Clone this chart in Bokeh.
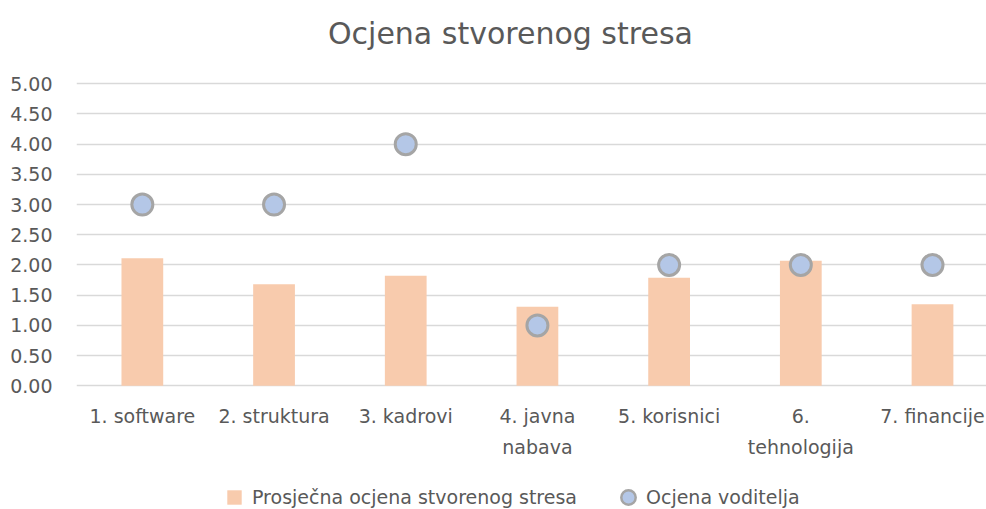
from bokeh.plotting import figure
from bokeh.models import (Range1d, FixedTicker, Legend, LegendItem, Label,
                          ColumnDataSource, NumeralTickFormatter)
from bokeh.core.properties import value
from bokeh.embed import file_html
from bokeh.resources import INLINE

# ---- data ----
title_text = "Ocjena stvorenog stresa"
categories = ["1. software", "2. struktura", "3. kadrovi", "4. javna nabava",
              "5. korisnici", "6. tehnologija", "7. financije"]
tick_labels = ["1. software", "2. struktura", "3. kadrovi", "4. javna\nnabava",
               "5. korisnici", "6.\ntehnologija", "7. financije"]
avg_stress = [2.11, 1.68, 1.82, 1.31, 1.79, 2.07, 1.35]
leader_score = [3, 3, 4, 1, 2, 2, 2]
y_ticks = [0, 0.5, 1, 1.5, 2, 2.5, 3, 3.5, 4, 4.5, 5]
series_names = ["Prosječna ocjena stvorenog stresa", "Ocjena voditelja"]

FONT = "DejaVu Sans"
TXT = "#595959"
BAR = "#F8CBAD"
DOT = "#B4C7E7"
DOT_LINE = "#A5A5A5"

xpos = [i + 0.5 for i in range(len(categories))]
src = ColumnDataSource(dict(x=xpos, avg=avg_stress, lead=leader_score,
                            cat=categories, lab=tick_labels))

# the plotting frame spans the full height so that the title, category
# labels and legend (drawn in data space) are not clipped
p = figure(width=986, height=509, output_backend="svg", toolbar_location=None,
           title=None, x_range=Range1d(0, 6.91), y_range=Range1d(-2.048, 6.379),
           min_border_left=76, min_border_right=0, min_border_top=0,
           min_border_bottom=0)
p.outline_line_color = None
p.background_fill_color = "white"
p.border_fill_color = "white"
p.xaxis.visible = False

bars = p.vbar(x="x", top="avg", width=0.317, bottom=0, source=src,
              fill_color=BAR, line_color=None)
dots = p.scatter(x="x", y="lead", size=21, source=src, marker="circle",
                 fill_color=DOT, line_color=DOT_LINE, line_width=3)

# y axis + grid
p.xgrid.grid_line_color = None
p.ygrid.grid_line_color = "#D9D9D9"
p.ygrid.grid_line_width = 1.3
p.yaxis.ticker = FixedTicker(ticks=y_ticks)
p.yaxis.formatter = NumeralTickFormatter(format="0.00")
p.yaxis.axis_line_color = None
p.yaxis.major_tick_line_color = None
p.yaxis.minor_tick_line_color = None
p.yaxis.major_label_text_font = FONT
p.yaxis.major_label_text_font_size = "19px"
p.yaxis.major_label_text_color = TXT
p.yaxis.major_label_standoff = 18

# category labels under the bars
p.text(x="x", y=-0.31, text="lab", source=src, text_font=value(FONT),
       text_font_size="19px", text_color=TXT, text_align="center",
       text_baseline="top", text_line_height=1.45)

# title
p.add_layout(Label(x=3.295, y=5.833, text=title_text, text_font=FONT,
                   text_font_size="30px", text_color=TXT, text_align="center",
                   text_baseline="middle"))

# legend-only renderers (hidden) so the legend markers can be larger
leg_sq = p.scatter(x="x", y="avg", source=src, marker="square",
                   fill_color=BAR, line_color=None, visible=False)
leg_ci = p.scatter(x="x", y="lead", source=src, marker="circle", fill_color=DOT,
                   line_color=DOT_LINE, line_width=2.5, visible=False)

legend = Legend(items=[LegendItem(label=series_names[0], renderers=[leg_sq]),
                       LegendItem(label=series_names[1], renderers=[leg_ci])],
                location=(140, -6), orientation="horizontal",
                glyph_width=36, glyph_height=36, label_standoff=0,
                padding=0, margin=0, spacing=33,
                border_line_color=None, background_fill_alpha=0,
                label_text_font=FONT, label_text_font_size="19px",
                label_text_color=TXT)
p.add_layout(legend, "center")

open("out.html", "w").write(file_html(p, INLINE))
